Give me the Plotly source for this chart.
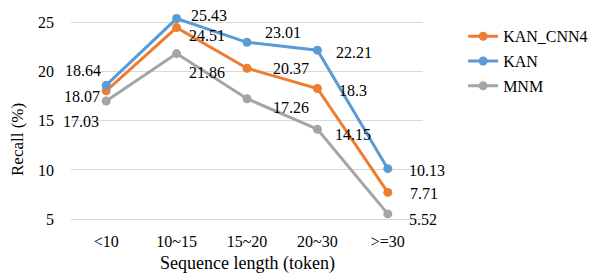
import plotly.graph_objects as go

categories = ["<10", "10~15", "15~20", "20~30", ">=30"]
kan_cnn4 = [18.07, 24.51, 20.37, 18.3, 7.71]
kan = [18.64, 25.43, 23.01, 22.21, 10.13]
mnm = [17.03, 21.86, 17.26, 14.15, 5.52]
y_ticks = [5, 10, 15, 20, 25]

series = [
    ("KAN_CNN4", kan_cnn4, "#ED7D31"),
    ("KAN", kan, "#5B9BD5"),
    ("MNM", mnm, "#A5A5A5"),
]

# label placement (anchor, xshift, yshift) per series per point
label_offsets = {
    "KAN_CNN4": [("right", -4, -6), ("left", 10, -8), ("left", 24, 0), ("left", 20, -2), ("left", 20, -1)],
    "KAN": [("right", -3, 15), ("left", 12, 3), ("left", 16, 10), ("left", 17, -2), ("left", 19, -2)],
    "MNM": [("right", -5, -21), ("left", 10, -19), ("left", 24, -9), ("left", 16, -5), ("left", 19, -6)],
}

FONT = "'Times New Roman', 'Liberation Serif', 'DejaVu Serif', serif"
fig = go.Figure()
annotations = []
for i, (name, vals, color) in enumerate(series):
    fig.add_trace(go.Scatter(
        x=categories, y=vals, name=name, mode="lines+markers",
        line=dict(color=color, width=3),
        marker=dict(color=color, size=9),
        legendgroup=name, cliponaxis=False,
    ))
    for c, v, (anc, dx, dy) in zip(categories, vals, label_offsets[name]):
        annotations.append(dict(
            x=c, y=v, text=f"{v:g}", showarrow=False, xanchor=anc, yanchor="middle",
            xshift=dx, yshift=dy, font=dict(family=FONT, size=16, color="#000000"),
        ))

# axis titles as annotations for exact placement
annotations.append(dict(
    text="Sequence length (token)", xref="paper", yref="paper", x=0.5, y=-45 / 208,
    xanchor="center", yanchor="middle", showarrow=False,
    font=dict(family=FONT, size=18, color="#000000"),
))
annotations.append(dict(
    text="Recall (%)", xref="paper", yref="paper", x=(9 - 63) / 352, y=79 / 208,
    xanchor="center", yanchor="middle", showarrow=False, textangle=-90,
    font=dict(family=FONT, size=17, color="#000000"),
))

fig.update_layout(
    width=612, height=280,
    margin=dict(l=63, r=197, t=3, b=69, autoexpand=False),
    paper_bgcolor="white", plot_bgcolor="white",
    font=dict(family=FONT, size=16, color="#000000"),
    annotations=annotations,
    showlegend=True,
    legend=dict(x=1.114, y=0.96, xanchor="left", yanchor="top",
                traceorder="grouped", tracegroupgap=1,
                font=dict(family=FONT, size=16, color="#000000")),
    xaxis=dict(
        type="category", range=[-0.5, 4.5], autorange=False,
        showgrid=False, showline=True, linecolor="#D9D9D9", linewidth=1,
        ticks="", automargin=False, ticklabelstandoff=8,
        tickfont=dict(family=FONT, size=16, color="#000000"),
    ),
    yaxis=dict(
        range=[5, 26.2], autorange=False, tickvals=y_ticks, showgrid=True,
        gridcolor="#D9D9D9", gridwidth=1,
        zeroline=False, ticks="", ticklabelstandoff=16, automargin=False,
        tickfont=dict(family=FONT, size=16, color="#000000"),
    ),
)

fig.write_html("out.html")
